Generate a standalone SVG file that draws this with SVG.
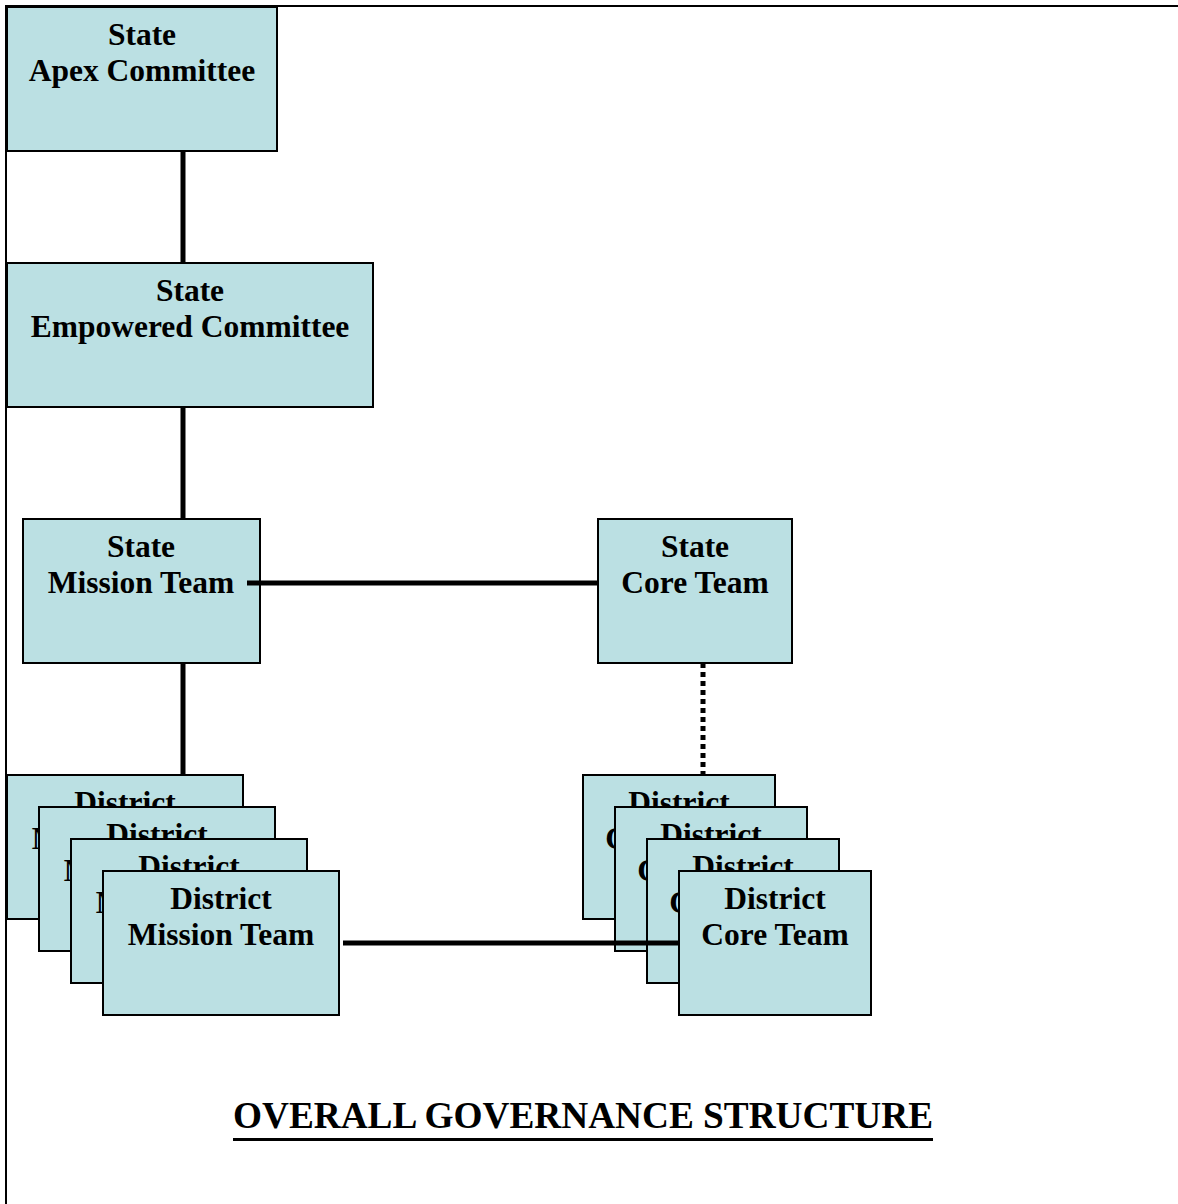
<svg xmlns="http://www.w3.org/2000/svg" width="1178" height="1204" viewBox="0 0 1178 1204">
<style>
.box{fill:#BBE0E3;stroke:#000;stroke-width:2}
.t{font-family:"Liberation Serif","Times New Roman",serif;font-weight:bold;font-size:31.5px;fill:#000;text-anchor:middle}
.solid{stroke:#000;stroke-width:5;fill:none}
.dot{stroke:#000;stroke-width:5;fill:none;stroke-dasharray:5 4}
.title{font-family:"Liberation Serif","Times New Roman",serif;font-weight:bold;font-size:37px;fill:#000;text-anchor:middle}
</style>
<rect width="1178" height="1204" fill="#fff"/>
<g id="frame">
<line x1="6" y1="6" x2="1178" y2="6" stroke="#000" stroke-width="2"/>
<line x1="6" y1="5" x2="6" y2="1204" stroke="#000" stroke-width="2"/>
</g>
<g id="connectors-back">
<line class="solid" x1="183" y1="151" x2="183" y2="263"/>
<line class="solid" x1="183" y1="407" x2="183" y2="519"/>
<line class="solid" x1="183" y1="663" x2="183" y2="775"/>
<line class="dot" x1="703" y1="663" x2="703" y2="775"/>
</g>
<g id="apex">
<rect class="box" x="7" y="7" width="270" height="144"/>
<text class="t" x="142" y="45">State</text>
<text class="t" x="142" y="81">Apex Committee</text>
</g>
<g id="empowered">
<rect class="box" x="7" y="263" width="366" height="144"/>
<text class="t" x="190" y="301">State</text>
<text class="t" x="190" y="337">Empowered Committee</text>
</g>
<g id="mission">
<rect class="box" x="23" y="519" width="237" height="144"/>
<text class="t" x="141" y="557">State</text>
<text class="t" x="141" y="593">Mission Team</text>
</g>
<g id="core">
<rect class="box" x="598" y="519" width="194" height="144"/>
<text class="t" x="695" y="557">State</text>
<text class="t" x="695" y="593">Core Team</text>
</g>
<g id="district-mission-1">
<rect class="box" x="7" y="775" width="236" height="144"/>
<text class="t" x="125" y="813">District</text>
<text class="t" x="125" y="849">Mission Team</text>
</g>
<g id="district-mission-2">
<rect class="box" x="39" y="807" width="236" height="144"/>
<text class="t" x="157" y="845">District</text>
<text class="t" x="157" y="881">Mission Team</text>
</g>
<g id="district-mission-3">
<rect class="box" x="71" y="839" width="236" height="144"/>
<text class="t" x="189" y="877">District</text>
<text class="t" x="189" y="913">Mission Team</text>
</g>
<g id="district-mission-4">
<rect class="box" x="103" y="871" width="236" height="144"/>
<text class="t" x="221" y="909">District</text>
<text class="t" x="221" y="945">Mission Team</text>
</g>
<g id="district-core-1">
<rect class="box" x="583" y="775" width="192" height="144"/>
<text class="t" x="679" y="813">District</text>
<text class="t" x="679" y="849">Core Team</text>
</g>
<g id="district-core-2">
<rect class="box" x="615" y="807" width="192" height="144"/>
<text class="t" x="711" y="845">District</text>
<text class="t" x="711" y="881">Core Team</text>
</g>
<g id="district-core-3">
<rect class="box" x="647" y="839" width="192" height="144"/>
<text class="t" x="743" y="877">District</text>
<text class="t" x="743" y="913">Core Team</text>
</g>
<g id="connectors-front">
<line class="solid" x1="247" y1="583" x2="598" y2="583"/>
<line class="solid" x1="343" y1="943" x2="679" y2="943"/>
</g>
<g id="district-core-4">
<rect class="box" x="679" y="871" width="192" height="144"/>
<text class="t" x="775" y="909">District</text>
<text class="t" x="775" y="945">Core Team</text>
</g>
<g id="title">
<text class="title" x="583" y="1128" textLength="700" lengthAdjust="spacingAndGlyphs">OVERALL GOVERNANCE STRUCTURE</text>
<rect x="233" y="1138" width="700" height="3" fill="#000"/>
</g>
</svg>
